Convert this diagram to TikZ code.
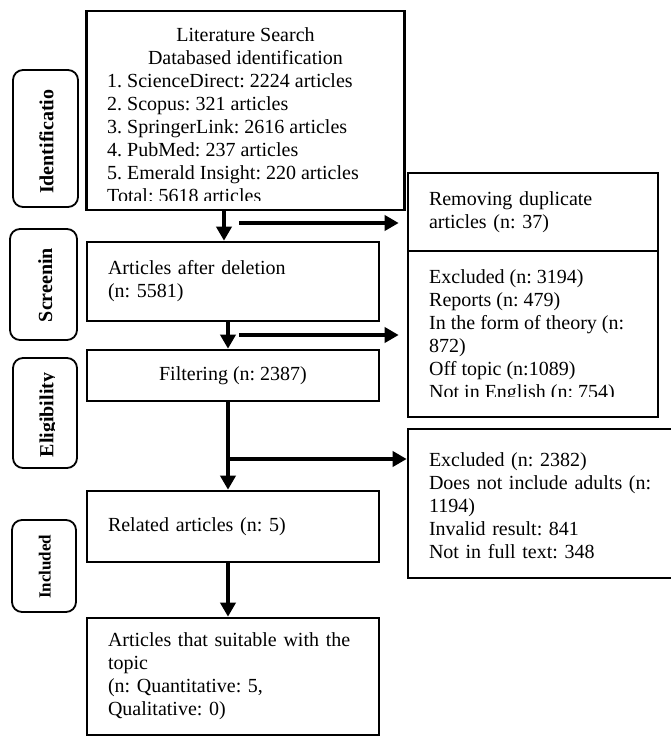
\documentclass[tikz,border=0pt]{standalone}
\usepackage{fontspec}
\setmainfont{Liberation Serif}
\usetikzlibrary{arrows.meta}
\frenchspacing
\newcommand\firstl{\rule{0pt}{15pt}}
\begin{document}
\begin{tikzpicture}[x=1pt,y=-1pt,
  box/.style={draw, line width=2.6pt, inner sep=0pt, font=\fontsize{20}{23}\selectfont},
  lbl/.style={draw, rounded corners=10pt, line width=1.8pt, inner sep=0pt},
  lbltxt/.style={rotate=90, anchor=base, inner sep=0pt, font=\bfseries\fontsize{20}{23}\selectfont},
  txt/.style={inner sep=0pt, font=\fontsize{20}{23}\selectfont},
  arr/.style={line width=4pt, -{Triangle[length=14pt,width=15pt]}}]
\useasboundingbox (0,0) rectangle (671,737);

% side labels
\node[lbl, minimum width=65pt, minimum height=137pt] (idl) at (45.5,138.5) {};
\node[lbl, minimum width=67pt, minimum height=111pt] (scl) at (43.5,284.5) {};
\node[lbl, minimum width=64pt, minimum height=110pt] (ell) at (45,413) {};
\node[lbl, minimum width=64pt, minimum height=92pt] (inl) at (44,566) {};
\node[lbltxt] (idt) at (53.3,141.7) {Identificatio};
\begin{scope}
  \clip (20,232) rectangle (52,338);
  \node[lbltxt] (sct) at (52,285) {Screenin};
\end{scope}
\begin{scope}
  \clip (20,360) rectangle (54.5,466);
  \node[lbltxt] (elt) at (53.3,415) {Eligibility};
\end{scope}
\node[lbltxt, font=\bfseries\fontsize{17}{20}\selectfont] (int) at (50.7,566.7) {Included};

% top box
\node[box, minimum width=318pt, minimum height=199pt] (top) at (245.5,110.5) {};
\begin{scope}
  \clip (90,14) rectangle (400,200.7);
  \node[txt, anchor=north, align=center] (toph) at (245.5,26.7)
    {\firstl Literature Search\\Databased identification};
  \node[txt, anchor=north west, align=left] (topl) at (107,72.7)
    {\firstl 1. ScienceDirect: 2224 articles\\
     2. Scopus: 321 articles\\
     3. SpringerLink: 2616 articles\\
     4. PubMed: 237 articles\\
     5. Emerald Insight: 220 articles\\
     Total: 5618 articles};
\end{scope}

% left column
\node[box, minimum width=292pt, minimum height=79pt, text width=250pt, align=left] (del) at (233,281.5)
  {Articles after deletion\\(n: 5581)};
\node[box, minimum width=292pt, minimum height=51pt, align=center] (filt) at (233,375.5)
  {Filtering (n: 2387)};
\node[box, minimum width=292pt, minimum height=71pt, text width=250pt, align=left] (rel) at (233,526.5)
  {Related articles (n: 5)};
\node[box, minimum width=292pt, minimum height=117pt, text width=250pt, align=left] (fin) at (233,676.5)
  {Articles that suitable with the\\topic\\(n: Quantitative: 5,\\Qualitative: 0)};

% right column
\node[box, minimum width=250pt, minimum height=78pt, text width=208pt, align=left] (dup) at (533,212)
  {Removing duplicate\\articles (n: 37)};
\node[box, minimum width=250pt, minimum height=166pt] (ex1) at (533,334) {};
\begin{scope}
  \clip (412,255) rectangle (654,396.3);
  \node[txt, anchor=north west, align=left] (ex1t) at (429,268.3)
    {\firstl Excluded (n: 3194)\\
     Reports (n: 479)\\
     In the form of theory (n:\\
     872)\\
     Off topic (n:1089)\\
     Not in English (n: 754)};
\end{scope}
\node[box, minimum width=265pt, minimum height=149pt, text width=223pt, align=left] (ex2) at (540.5,503.5)
  {\rule{0pt}{19pt}Excluded (n: 2382)\\Does not include adults (n:\\1194)\\Invalid result: 841\\Not in full text: 348};

% connectors
\coordinate (ax1) at (224,0);
\coordinate (ax2) at (228,0);
\coordinate (h1) at (239,223);
\coordinate (h2) at (239,335);
\coordinate (h3) at (228,459);
\draw[arr] (top.south -| ax1) -- (del.north -| ax1);
\draw[arr, shorten >=8pt] (h1) -- (dup.west |- h1);
\draw[arr] (del.south -| ax2) -- (filt.north -| ax2);
\draw[arr, shorten >=8pt] (h2) -- (ex1.west |- h2);
\draw[arr] (filt.south -| ax2) -- (rel.north -| ax2);
\draw[arr] (h3) -- (ex2.west |- h3);
\draw[arr] (rel.south -| ax2) -- (fin.north -| ax2);
\end{tikzpicture}
\end{document}
